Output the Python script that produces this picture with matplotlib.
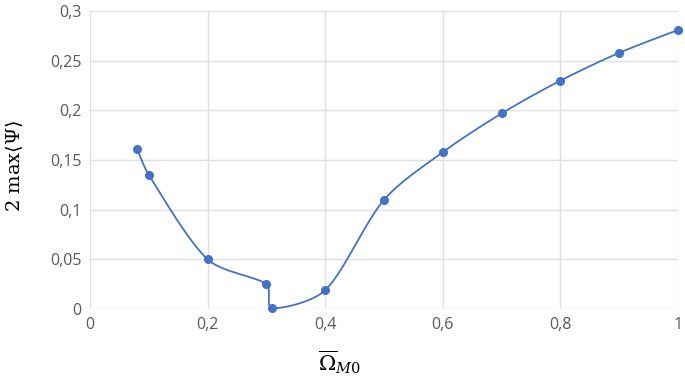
import numpy as np
import matplotlib
matplotlib.use("Agg")
import matplotlib.pyplot as plt

x_vals = [0.08, 0.10, 0.20, 0.30, 0.31, 0.40, 0.50, 0.60, 0.70, 0.80, 0.90, 1.00]
y_vals = [0.161, 0.135, 0.050, 0.025, 0.001, 0.019, 0.110, 0.158, 0.197, 0.230, 0.258, 0.281]
x_ticks = [0, 0.2, 0.4, 0.6, 0.8, 1.0]
x_labels = ["0", "0,2", "0,4", "0,6", "0,8", "1"]
y_ticks = [0, 0.05, 0.10, 0.15, 0.20, 0.25, 0.30]
y_labels = ["0", "0,05", "0,1", "0,15", "0,2", "0,25", "0,3"]

color = "#4472C4"
plt.rcParams['mathtext.fontset'] = 'dejavuserif'

fig = plt.figure(figsize=(6.85, 3.82), dpi=100)
ax = fig.add_axes([0.1314, 0.191, 0.8585, 0.780])
ax.set_xlim(0, 1)
ax.set_ylim(0, 0.3)

# Excel-like smoothed line in display space, tangents limited on short segments
pts = ax.transData.transform(np.column_stack([x_vals, y_vals]))
n = len(pts)


def ctrl(base, other, prev_pt, next_pt):
    tan = (next_pt - prev_pt) / 6.0
    seg_len = np.linalg.norm(other - base)
    tl = np.linalg.norm(tan)
    lim = seg_len * 0.3
    if tl > lim and tl > 0:
        tan = tan / tl * lim
    return tan


curve = []
for i in range(n - 1):
    p0 = pts[max(i - 1, 0)]
    p1 = pts[i]
    p2 = pts[i + 1]
    p3 = pts[min(i + 2, n - 1)]
    c1 = p1 + ctrl(p1, p2, p0, p2)
    c2 = p2 - ctrl(p2, p1, p1, p3)
    t = np.linspace(0, 1, 40)[:, None]
    seg = ((1 - t) ** 3) * p1 + 3 * ((1 - t) ** 2) * t * c1 + 3 * (1 - t) * t ** 2 * c2 + t ** 3 * p2
    curve.append(seg if i == 0 else seg[1:])
curve = np.vstack(curve)
curve_data = ax.transData.inverted().transform(curve)

ax.plot(curve_data[:, 0], curve_data[:, 1], color=color, lw=1.3, zorder=3, clip_on=False)
ax.plot(x_vals, y_vals, 'o', color=color, ms=5.5, zorder=4, clip_on=False)

ax.set_xticks(x_ticks)
ax.set_xticklabels(x_labels)
ax.set_yticks(y_ticks)
ax.set_yticklabels(y_labels)
ax.grid(True, color="#e0e0e0", lw=1.0)
ax.set_axisbelow(True)
for s in ax.spines.values():
    s.set_visible(False)
ax.tick_params(length=0, labelsize=11.5, labelcolor="#595959", pad=6)
for lab in ax.get_xticklabels() + ax.get_yticklabels():
    lab.set_fontfamily("Open Sans")

fig.text(339 / 685, 1 - 362 / 382, r'$\overline{\Omega}_{M0}$', fontsize=15,
         color="black", ha="center", va="center")
fig.text(15 / 685, 1 - 166 / 382, r'$2\ \mathrm{max}\langle\Psi\rangle$', fontsize=14,
         color="black", ha="center", va="center", rotation=90)

fig.savefig("out.png", dpi=100)
